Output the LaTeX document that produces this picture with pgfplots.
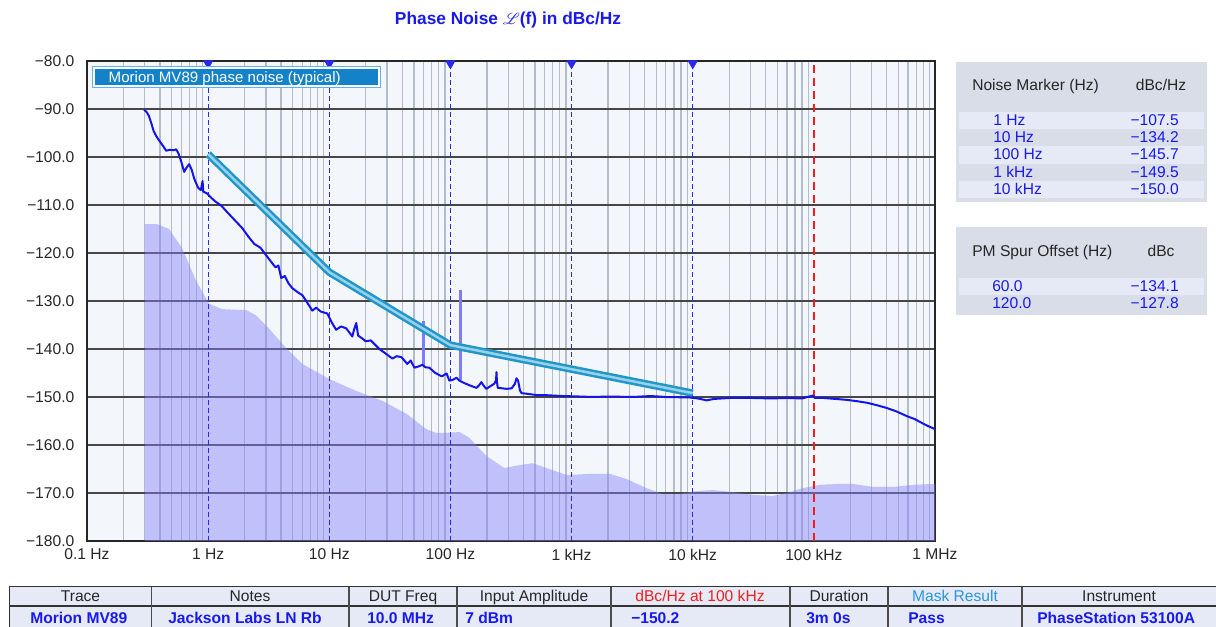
\documentclass[border=0pt]{standalone}
\usepackage{fontspec}
\setmainfont{Liberation Sans}
\usepackage{mathrsfs}
\usepackage{pgfplots}
\pgfplotsset{compat=1.18}

\newlength\px
\setlength\px{0.75pt}

\definecolor{bgc}{RGB}{243,246,251}
\definecolor{hgrid}{RGB}{70,70,70}
\definecolor{vgrid}{RGB}{180,188,202}
\definecolor{trace}{RGB}{20,20,235}
\definecolor{floorc}{RGB}{130,130,250}
\definecolor{maskout}{RGB}{35,150,200}
\definecolor{maskin}{RGB}{150,210,235}
\definecolor{spurc}{RGB}{125,125,250}
\definecolor{mkblue}{RGB}{40,40,240}
\definecolor{mkred}{RGB}{240,30,30}
\definecolor{boxc}{RGB}{216,221,232}
\definecolor{stripe}{RGB}{229,234,246}
\definecolor{txtblue}{RGB}{25,25,235}
\definecolor{legfill}{RGB}{20,130,200}
\definecolor{legedge}{RGB}{100,175,230}
\definecolor{maskres}{RGB}{40,150,220}

\newcommand\tf{\fontsize{11.7}{14}\selectfont}

\begin{document}
\begin{tikzpicture}[x=\px,y=\px]
\path[use as bounding box] (0,0) rectangle (1216,627);

\begin{axis}[
    at={(87\px,86\px)}, anchor=south west,
    scale only axis, width=848\px, height=480\px,
    xmode=log, log basis x=10,
    xmin=0.1, xmax=1e6, ymin=-180, ymax=-80,
    xtick={0.1,1,10,100,1000,10000,100000,1000000},
    xticklabels={0.1 Hz,1 Hz,10 Hz,100 Hz,1 kHz,10 kHz,100 kHz,1 MHz},
    minor xtick={0.2,0.3,0.4,0.5,0.6,0.7,0.8,0.9,
        2,3,4,5,6,7,8,9,20,30,40,50,60,70,80,90,
        200,300,400,500,600,700,800,900,
        2000,3000,4000,5000,6000,7000,8000,9000,
        20000,30000,40000,50000,60000,70000,80000,90000,
        200000,300000,400000,500000,600000,700000,800000,900000},
    ytick={-180,-170,-160,-150,-140,-130,-120,-110,-100,-90,-80},
    yticklabels={−180.0,−170.0,−160.0,−150.0,−140.0,−130.0,−120.0,−110.0,−100.0,−90.0,−80.0},
    ymajorgrids, xminorgrids,
    major grid style={color=hgrid, line width=1.4\px},
    minor grid style={color=vgrid, line width=1.3\px},
    major tick length=0pt, minor tick length=0pt,
    axis line style={line width=2\px, color=black!85},
    axis background/.style={fill=bgc},
    tick label style={font=\tf, color=black!85},
    yticklabel style={xshift=-8\px},
    xticklabel style={yshift=-3\px},
    clip=false,
]

% measurement floor
\addplot[draw=none, fill=floorc, fill opacity=0.45] coordinates {
(0.3,-180)(0.3,-114)(0.379,-114)(0.476,-115)(0.61,-119)(0.796,-125.8)
(1.02,-130.6)(1.31,-131.7)(2.06,-131.9)(2.49,-133)(3.19,-135.8)(4.41,-139.8)
(5.98,-143.1)(10,-146.25)(16.7,-148.75)(27.4,-150.8)(43.3,-153.5)(63.3,-156.7)
(76.6,-157.5)(89.2,-157.5)(119,-157.3)(143,-158.5)(198,-162.3)(279,-164.8)
(372,-164.2)(476,-163.8)(621,-164.8)(909,-166.25)(1492,-166)(2062,-166)
(2850,-167.1)(4170,-169)(5650,-170.2)(7810,-170.2)(10800,-169.6)(14630,-169.4)
(21400,-169.8)(31330,-170.4)(45800,-170.6)(59800,-170)(81100,-169)(112000,-168.3)
(164000,-168.1)(210000,-168.1)(307000,-168.75)(450000,-168.75)(658000,-168.3)
(1000000,-168.1)(1000000,-180)} -- cycle;

% marker lines
\addplot[mkblue, dash pattern=on 5\px off 3\px, line width=1.2\px] coordinates {(1,-180)(1,-80)};
\addplot[mkblue, dash pattern=on 5\px off 3\px, line width=1.2\px] coordinates {(10,-180)(10,-80)};
\addplot[mkblue, dash pattern=on 5\px off 3\px, line width=1.2\px] coordinates {(100,-180)(100,-80)};
\addplot[mkblue, dash pattern=on 5\px off 3\px, line width=1.2\px] coordinates {(1000,-180)(1000,-80)};
\addplot[mkblue, dash pattern=on 5\px off 3\px, line width=1.2\px] coordinates {(10000,-180)(10000,-80)};
\addplot[mkred, dash pattern=on 8\px off 5\px, line width=1.4\px] coordinates {(100000,-180)(100000,-80)};

% spurs
\addplot[spurc, line width=3\px] coordinates {(60,-143.6)(60,-134.1)};
\addplot[spurc, line width=3\px] coordinates {(120,-146.4)(120,-127.8)};

% mask
\addplot[maskout, line width=7.5\px, line join=round] coordinates {(1,-99.4)(10,-124.0)(100,-139.2)(10000,-149.2)};
\addplot[maskin, line width=2.5\px, line join=round] coordinates {(1,-99.4)(10,-124.0)(100,-139.2)(10000,-149.2)};

% phase noise trace
\addplot[trace, line width=2\px, line join=round] coordinates {
(0.296,-90.2)(0.31,-90.6)(0.325,-91.5)(0.34,-93.0)(0.355,-94.6)(0.372,-95.6)
(0.40,-96.8)(0.43,-97.9)(0.45,-98.7)(0.48,-98.5)(0.52,-98.6)(0.545,-98.4)
(0.57,-99.3)(0.60,-101.0)(0.634,-103.1)(0.66,-102.3)(0.697,-101.5)(0.73,-102.6)
(0.77,-104.6)(0.826,-106.4)(0.87,-106.9)(0.90,-105.0)(0.91,-107.2)(0.98,-107.6)
(1.05,-108.4)(1.15,-109.3)(1.28,-110.1)(1.45,-111.6)(1.65,-113.1)(1.91,-114.8)
(2.15,-116.6)(2.40,-118.1)(2.7,-118.9)(3.19,-121.3)(3.6,-123.0)(3.8,-122.6)
(4.01,-125.2)(4.3,-124.8)(4.6,-126.3)(4.94,-127.3)(5.5,-128.2)(6.0,-128.8)
(6.45,-130.0)(7.24,-132.0)(7.8,-131.4)(8.5,-132.2)(9.62,-132.6)(10.5,-134.5)
(11.4,-136.0)(12.5,-135.3)(13.8,-135.7)(15.5,-137.4)(16.0,-136.0)(16.7,-134.6)
(17.3,-137.2)(18.7,-137.8)(20,-138.4)(22,-138.2)(25.9,-140.0)(29,-140.9)
(33.2,-142.0)(36,-141.5)(39.4,-141.7)(44,-143.1)(47,-142.4)(50.4,-143.9)
(55,-143.6)(58.7,-143.3)(62,-143.8)(67,-143.9)(75,-145.0)(85,-145.7)(93,-145.1)
(98,-146.6)(105,-146.4)(112,-146.0)(119,-146.6)(130,-147.1)(145,-147.6)
(164,-148.1)(172,-147.6)(180,-146.9)(190,-147.8)(198,-148.3)(215,-147.7)
(231,-147.2)(238,-146.5)(240,-144.8)(242,-146.8)(246,-148.1)(270,-148.2)
(290,-148.3)(320,-148.2)(340,-147.3)(351,-146.1)(362,-146.6)(375,-148.6)
(386,-149.2)(420,-149.3)(514,-149.6)(600,-149.6)(700,-149.7)(850,-149.8)
(1165,-149.9)(1500,-150.0)(2000,-149.9)(3190,-150.0)(4500,-149.8)(6000,-150.0)
(9440,-150.1)(11000,-150.3)(13060,-150.7)(15000,-150.4)(20230,-150.2)
(30000,-150.2)(45000,-150.3)(60000,-150.2)(80000,-150.3)(98200,-149.7)
(102000,-150.2)(120000,-150.2)(150000,-150.4)(187500,-150.6)(230000,-150.9)
(274000,-151.2)(330000,-151.7)(401000,-152.3)(480000,-153.0)(587000,-154.0)
(680000,-154.6)(752000,-155.2)(850000,-155.9)(1000000,-156.7)};

% noise markers on top edge
\addplot[only marks, mark=triangle*, mark size=5.5\px, color=mkblue,
    mark options={rotate=180}] coordinates {(1,-80.5)(10,-80.5)(100,-80.5)(1000,-80.5)(10000,-80.5)};
\end{axis}

% title
\node[font=\fontsize{13}{15}\selectfont\bfseries, text=txtblue] at (508,607)
    {Phase Noise $\mathscr{L}$(f) in dBc/Hz};

% legend box
\draw[legedge, fill=white, line width=1\px] (92,539) rectangle (380,560);
\fill[legfill] (94.5,541.5) rectangle (377.5,557.5);
\node[anchor=west, text=white, font=\fontsize{11.3}{13}\selectfont, text height=0.72em, text depth=0pt]
    at (104,549.5) {Morion MV89 phase noise (typical)};

% noise marker table
\begin{scope}[every node/.style={font=\tf, text height=0.72em, text depth=0pt, inner sep=0pt}]
\fill[boxc] (956,425) rectangle (1207,565);
\fill[stripe] (959,498) rectangle (1204,515);
\fill[stripe] (959,463) rectangle (1204,480.5);
\fill[stripe] (959,428.5) rectangle (1204,446);
\node[anchor=west, text=black!85] at (972,541) {Noise Marker (Hz)};
\node[text=black!85] at (1161,541) {dBc/Hz};
\node[anchor=west, text=txtblue] at (993,506.5) {1 Hz};
\node[anchor=west, text=txtblue] at (993,489.2) {10 Hz};
\node[anchor=west, text=txtblue] at (993,472) {100 Hz};
\node[anchor=west, text=txtblue] at (993,454.7) {1 kHz};
\node[anchor=west, text=txtblue] at (993,437.4) {10 kHz};
\node[anchor=east, text=txtblue] at (1179,506.5) {−107.5};
\node[anchor=east, text=txtblue] at (1179,489.2) {−134.2};
\node[anchor=east, text=txtblue] at (1179,472) {−145.7};
\node[anchor=east, text=txtblue] at (1179,454.7) {−149.5};
\node[anchor=east, text=txtblue] at (1179,437.4) {−150.0};

% spur table
\fill[boxc] (956,312) rectangle (1207,400);
\fill[stripe] (959,332) rectangle (1204,349);
\node[anchor=west, text=black!85] at (972,375) {PM Spur Offset (Hz)};
\node[text=black!85] at (1161,375) {dBc};
\node[anchor=west, text=txtblue] at (992,340.5) {60.0};
\node[anchor=west, text=txtblue] at (992,323.5) {120.0};
\node[anchor=east, text=txtblue] at (1179,340.5) {−134.1};
\node[anchor=east, text=txtblue] at (1179,323.5) {−127.8};
\end{scope}

% summary table
\begin{scope}[every node/.style={text height=0.72em, text depth=0pt, inner sep=0pt}]
\fill[stripe] (9.3,-6) rectangle (1222,40.3);
\draw[black!80, line width=1.2\px] (9.3,-6) -- (9.3,40.3) -- (1222,40.3);
\draw[black!80, line width=1.2\px] (9.3,21) -- (1222,21);
\foreach \xx in {151.7,349,457,611,790,888,1022}
    \draw[black!70, line width=1.2\px] (\xx,-6) -- (\xx,40.3);
\node[font=\tf, text=black!85] at (80.5,30.3) {Trace};
\node[font=\tf, text=black!85] at (250,30.3) {Notes};
\node[font=\tf, text=black!85] at (403,30.3) {DUT Freq};
\node[font=\tf, text=black!85] at (534,30.3) {Input Amplitude};
\node[font=\tf, text=mkred] at (700,30.3) {dBc/Hz at 100 kHz};
\node[font=\tf, text=black!85] at (839,30.3) {Duration};
\node[font=\tf, text=maskres] at (955,30.3) {Mask Result};
\node[font=\tf, text=black!85] at (1119,30.3) {Instrument};
\node[font=\tf\bfseries, text=txtblue, anchor=west] at (30,8) {Morion MV89};
\node[font=\tf\bfseries, text=txtblue, anchor=west] at (168,8) {Jackson Labs LN Rb};
\node[font=\tf\bfseries, text=txtblue, anchor=west] at (367,8) {10.0 MHz};
\node[font=\tf\bfseries, text=txtblue, anchor=west] at (465,8) {7 dBm};
\node[font=\tf\bfseries, text=txtblue, anchor=west] at (631,8) {−150.2};
\node[font=\tf\bfseries, text=txtblue, anchor=west] at (806,8) {3m 0s};
\node[font=\tf\bfseries, text=txtblue, anchor=west] at (908,8) {Pass};
\node[font=\tf\bfseries, text=txtblue, anchor=west] at (1037,8) {PhaseStation 53100A};
\end{scope}
\end{tikzpicture}
\end{document}
